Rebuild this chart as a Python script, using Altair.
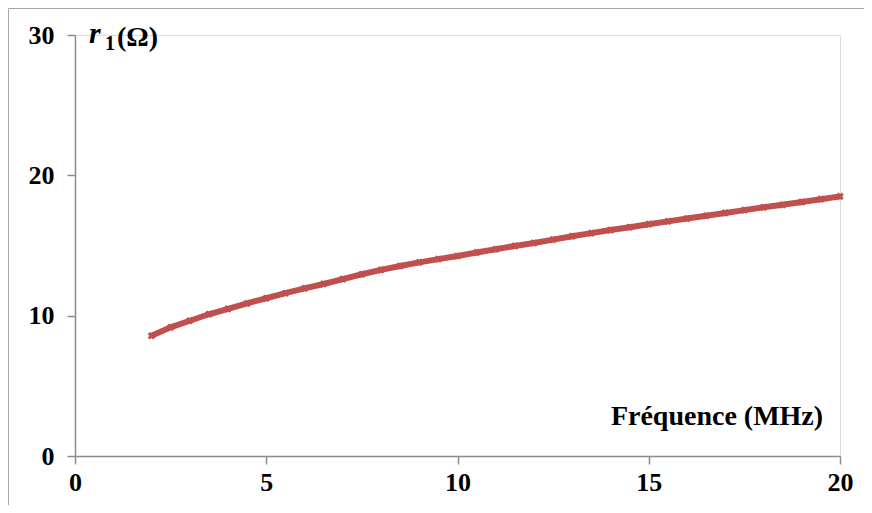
import altair as alt
import pandas as pd

freq = [2, 2.5, 3, 3.5, 4, 4.5, 5, 5.5, 6, 6.5, 7, 7.5, 8, 8.5, 9, 9.5, 10,
        10.5, 11, 11.5, 12, 12.5, 13, 13.5, 14, 14.5, 15, 15.5, 16, 16.5, 17,
        17.5, 18, 18.5, 19, 19.5, 20]
r1 = [8.57, 9.17, 9.64, 10.1, 10.48, 10.88, 11.24, 11.6, 11.95, 12.26, 12.6,
      12.95, 13.26, 13.54, 13.8, 14.03, 14.25, 14.5, 14.73, 14.97, 15.18,
      15.42, 15.66, 15.88, 16.1, 16.3, 16.52, 16.72, 16.92, 17.12, 17.32,
      17.52, 17.72, 17.9, 18.1, 18.3, 18.5]
x_ticks = [0, 5, 10, 15, 20]
y_ticks = [0, 10, 20, 30]

df = pd.DataFrame({"f": freq, "r": r1})

RED = "#C0504D"
GRAY = "#8C8C8C"
FONT = "Liberation Serif"

xs = alt.X("f:Q", scale=alt.Scale(domain=[0, 20], nice=False),
           axis=alt.Axis(values=x_ticks, title=None, grid=False, tickSize=8,
                         labelPadding=5, labelFont=FONT, labelFontSize=26,
                         labelFontWeight="bold", labelColor="black",
                         domainColor=GRAY, tickColor=GRAY, domainWidth=1.5,
                         tickWidth=1.5, labelFlush=False))
ys = alt.Y("r:Q", scale=alt.Scale(domain=[0, 30], nice=False),
           axis=alt.Axis(values=y_ticks, title=None, grid=False, tickSize=8,
                         labelPadding=13, labelFont=FONT, labelFontSize=26,
                         labelFontWeight="bold", labelColor="black",
                         domainColor=GRAY, tickColor=GRAY, domainWidth=1.5,
                         tickWidth=1.5))

base = alt.Chart(df)
line = base.mark_line(color=RED, strokeWidth=6).encode(x=xs, y=ys)
pts = base.mark_point(shape="cross", angle=45, filled=True, color=RED,
                      size=60, opacity=1).encode(x=xs, y=ys)

ann = alt.Chart(pd.DataFrame({"a": [0]}))
xtitle = ann.mark_text(text="Fréquence (MHz)", font=FONT, fontSize=28,
                       fontWeight="bold", align="center", baseline="middle",
                       color="black").encode(x=alt.value(642), y=alt.value(382))
t_r = ann.mark_text(text="r", font=FONT, fontSize=30, fontStyle="italic",
                    fontWeight="bold", align="left", baseline="alphabetic",
                    color="black").encode(x=alt.value(14), y=alt.value(8))
t_1 = ann.mark_text(text="1", font=FONT, fontSize=20, fontWeight="bold",
                    align="left", baseline="alphabetic",
                    color="black").encode(x=alt.value(30), y=alt.value(15))
t_o = ann.mark_text(text="(Ω)", font=FONT, fontSize=28, fontWeight="bold",
                    align="left", baseline="alphabetic",
                    color="black").encode(x=alt.value(42), y=alt.value(11))
border = ann.mark_rect(fill=None, stroke="#A6A6A6", strokeWidth=1,
                       clip=False).encode(x=alt.value(-66.5), x2=alt.value(793),
                                          y=alt.value(-26.5), y2=alt.value(600))

chart = alt.layer(border, line, pts, xtitle, t_r, t_1, t_o).properties(
    width=765, height=421,
    padding={"left": 67, "top": 27, "right": 24, "bottom": 49},
    autosize=alt.AutoSizeParams(type="none"),
).configure_view(stroke=None).configure(background="white")

chart.save("out.html", embed_options={"renderer": "svg", "actions": False})
